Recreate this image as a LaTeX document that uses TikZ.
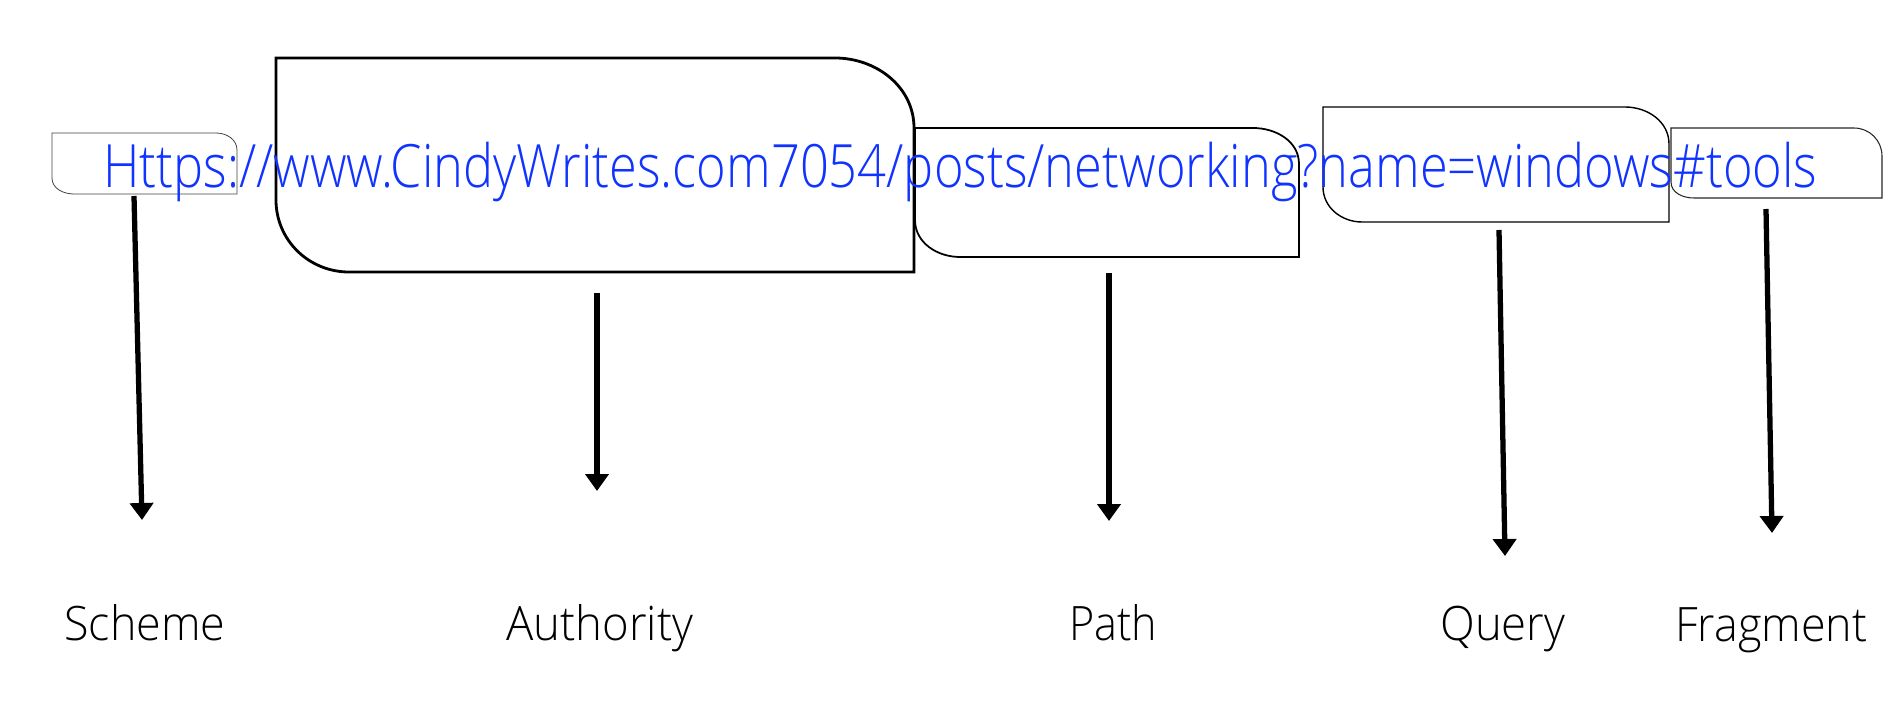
\documentclass[tikz,border=0pt]{standalone}
\usepackage{graphicx}
\usepackage{fontspec}
\IfFontExistsTF{Open Sans Light}{\setmainfont{Open Sans Light}}{\setmainfont{Open Sans}}
\usetikzlibrary{arrows.meta}
\definecolor{urlblue}{RGB}{17,51,255}
\tikzset{
  ubox/.style={draw=black, line join=miter},
  uarrow/.style={line width=3pt, -{Triangle[width=0.46cm,length=0.34cm]}},
  lbl/.style={anchor=base west, inner sep=0pt, font=\fontsize{27}{30}\selectfont},
}
\begin{document}
\begin{tikzpicture}[x=0.02cm,y=-0.02cm]
\useasboundingbox (0,0) rectangle (1897,705);
% boxes
\draw[ubox, draw=black!75, line width=0.45pt] (52,133) -- (216,133) to[out=0,in=90] (237,150) -- (237,194) -- (74,194) to[out=180,in=270] (52,178) -- cycle;
\draw[ubox, line width=1.6pt] (276,58) -- (835,58) to[out=0,in=90] (914,128) -- (914,272) -- (349,272) to[out=180,in=270] (276,200) -- cycle;
\draw[ubox, line width=1pt] (915,128) -- (1253,128) to[out=0,in=90] (1299,164) -- (1299,257) -- (960,257) to[out=180,in=270] (915,220) -- cycle;
\draw[ubox, line width=0.8pt] (1323,107) -- (1625,107) to[out=0,in=90] (1669,144) -- (1669,222) -- (1362,222) to[out=180,in=270] (1323,187) -- cycle;
\draw[ubox, draw=black!85, line width=0.6pt] (1671,128) -- (1854,128) to[out=0,in=90] (1882,156) -- (1882,198) -- (1694,198) to[out=180,in=270] (1671,182) -- cycle;
% url
\node[anchor=base west, inner sep=0pt, text=urlblue, font=\fontsize{34}{38}\selectfont] (url) at (103,188)
  {\resizebox{34.28cm}{\height}{Https://www.CindyWrites.com7054/posts/networking?name=windows\#tools}};
% labels
\node[lbl] (scheme) at (64,641) {\resizebox{3.22cm}{\height}{Scheme}};
\node[lbl] (authority) at (506,641) {\resizebox{3.74cm}{\height}{Authority}};
\node[lbl] (path) at (1069,641) {\resizebox{1.76cm}{\height}{Path}};
\node[lbl] (query) at (1440,641) {\resizebox{2.5cm}{\height}{Query}};
\node[lbl] (fragment) at (1675,641) {\resizebox{3.84cm}{\height}{Fragment}};
% arrow coordinates
\coordinate (s1) at (134,196); \coordinate (s2) at (142,520);
\coordinate (a1) at (597,293); \coordinate (a2) at (597,491);
\coordinate (p1) at (1109,273); \coordinate (p2) at (1109,521);
\coordinate (q1) at (1499,230); \coordinate (q2) at (1505,556);
\coordinate (f1) at (1766,209); \coordinate (f2) at (1772,533);
\draw[uarrow] (s1) -- (s2);
\draw[uarrow] (a1) -- (a2);
\draw[uarrow] (p1) -- (p2);
\draw[uarrow] (q1) -- (q2);
\draw[uarrow] (f1) -- (f2);
\end{tikzpicture}
\end{document}
